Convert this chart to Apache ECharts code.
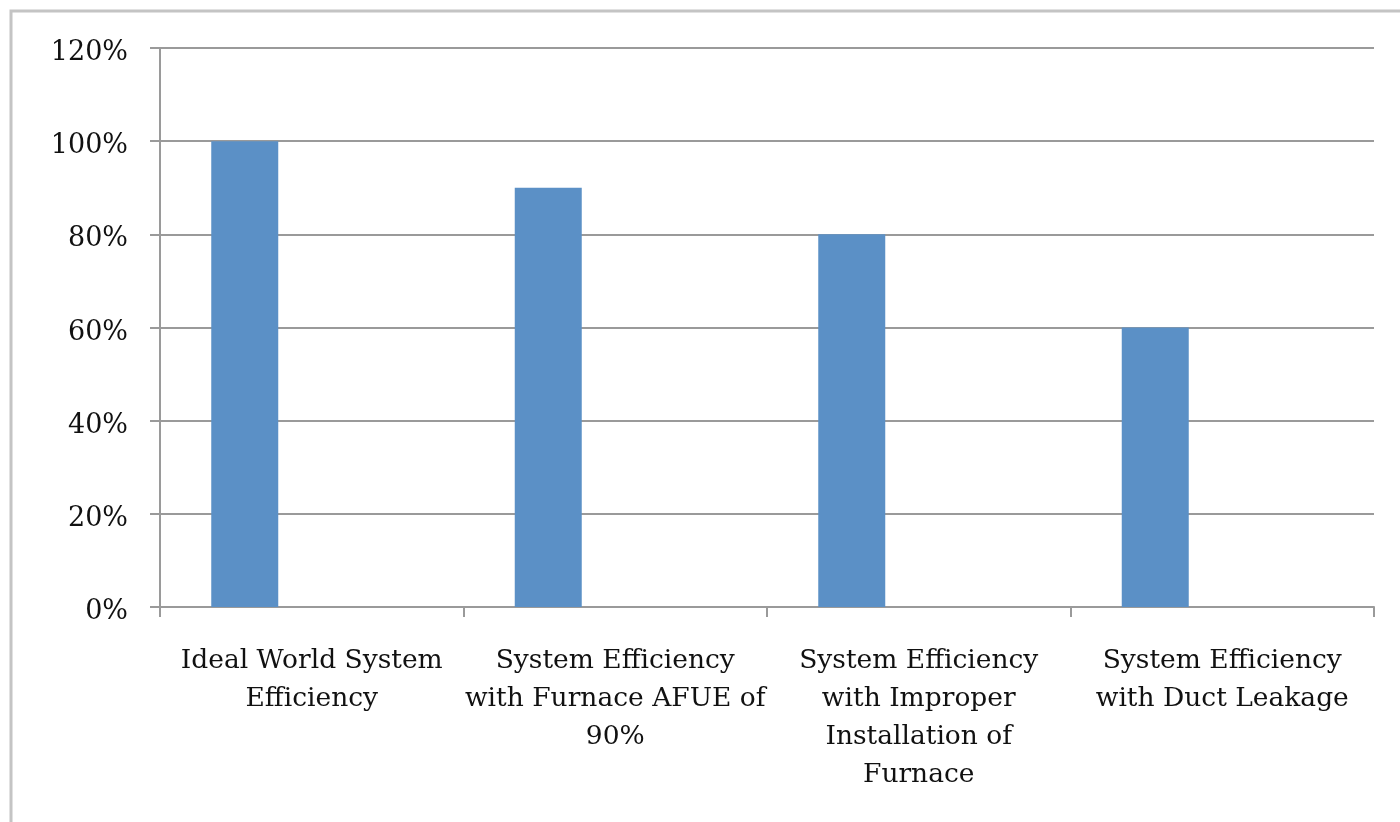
<!DOCTYPE html>
<html>
<head>
<meta charset="utf-8">
<script src="https://cdn.jsdelivr.net/npm/echarts@6/dist/echarts.min.js"></script>
<style>
html,body{margin:0;padding:0;background:#fff;}
#c{width:1400px;height:822px;}
</style>
</head>
<body>
<div id="c"></div>
<script>
const categories = [
  "Ideal World System\nEfficiency",
  "System Efficiency\nwith Furnace AFUE of\n90%",
  "System Efficiency\nwith Improper\nInstallation of\nFurnace",
  "System Efficiency\nwith Duct Leakage"
];
const efficiencyValues = [1.00, 0.90, 0.80, 0.60];
const emptySeriesB = [null, null, null, null];
const emptySeriesC = [null, null, null, null];
const yTicks = [0, 0.2, 0.4, 0.6, 0.8, 1.0, 1.2];

const FONT = "DejaVu Serif";
const chart = echarts.init(document.getElementById('c'));
chart.setOption({
  animation: false,
  backgroundColor: '#fff',
  graphic: [{
    type: 'rect',
    shape: {x: 11, y: 11, width: 1420, height: 840},
    style: {fill: 'none', stroke: '#c4c4c4', lineWidth: 3},
    silent: true
  }],
  grid: {left: 160, right: 26, top: 48, bottom: 215, containLabel: false},
  xAxis: {
    type: 'category',
    data: categories,
    axisLine: {lineStyle: {color: '#9a9a9a', width: 2}},
    axisTick: {show: true, length: 10, alignWithLabel: false, lineStyle: {color: '#9a9a9a', width: 2}},
    axisLabel: {interval: 0, margin: 35, fontFamily: FONT, fontSize: 26.5, color: '#111', lineHeight: 38}
  },
  yAxis: {
    type: 'value',
    min: yTicks[0],
    max: yTicks[yTicks.length - 1],
    interval: 0.2,
    axisLine: {show: true, lineStyle: {color: '#9a9a9a', width: 2}},
    axisTick: {show: true, length: 10, lineStyle: {color: '#9a9a9a', width: 2}},
    splitLine: {show: true, lineStyle: {color: '#9a9a9a', width: 2}},
    axisLabel: {
      margin: 32, color: '#111',
      formatter: v => '{p|' + Math.round(v * 100) + '%}',
      rich: {p: {fontFamily: FONT, fontSize: 27, color: '#111', padding: [10, 0, 0, 0]}}
    }
  },
  series: [
    {name: 'Efficiency', type: 'bar', data: efficiencyValues, barWidth: 67, barGap: '0%', itemStyle: {color: '#5b90c6'}},
    {name: 'B', type: 'bar', data: emptySeriesB, barWidth: 67, barGap: '0%'},
    {name: 'C', type: 'bar', data: emptySeriesC, barWidth: 67, barGap: '0%'}
  ]
});
</script>
</body>
</html>
